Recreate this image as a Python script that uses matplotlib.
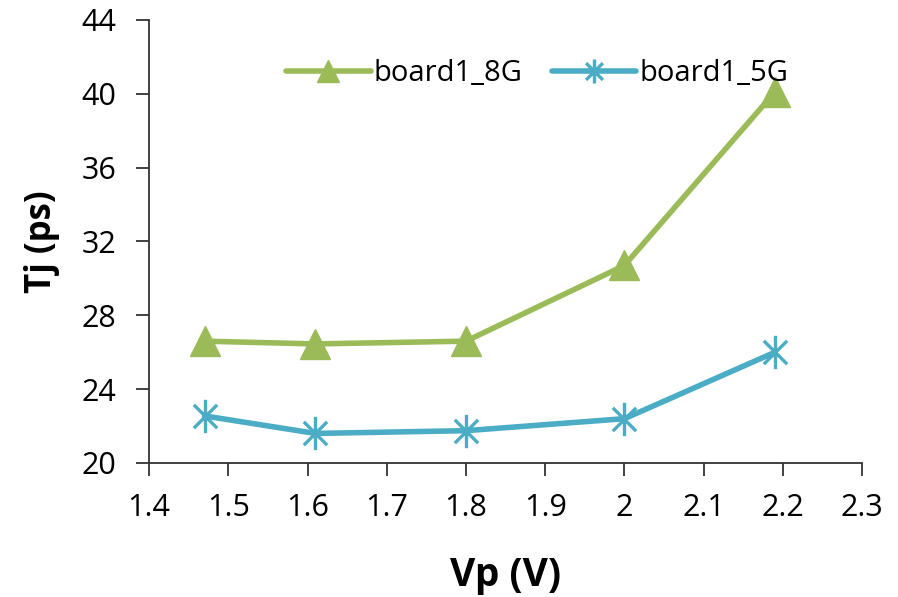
import numpy as np
import matplotlib.pyplot as plt
from matplotlib.path import Path

plt.rcParams["font.family"] = ["Open Sans", "DejaVu Sans"]

# data
vp = [1.47, 1.61, 1.80, 2.00, 2.19]
tj_8g = [26.6, 26.45, 26.6, 30.7, 40.1]
tj_5g = [22.55, 21.6, 21.75, 22.4, 26.0]
labels = ["board1_8G", "board1_5G"]
xticks = [1.4, 1.5, 1.6, 1.7, 1.8, 1.9, 2.0, 2.1, 2.2, 2.3]
xticklabels = ["1.4", "1.5", "1.6", "1.7", "1.8", "1.9", "2", "2.1", "2.2", "2.3"]
yticks = [20, 24, 28, 32, 36, 40, 44]

green = "#9BBB59"
blue = "#4BACC6"

# excel style star: vertical bar plus an X
star = Path(
    [(0, -1), (0, 1), (-0.7, -0.7), (0.7, 0.7), (-0.7, 0.7), (0.7, -0.7)],
    [Path.MOVETO, Path.LINETO, Path.MOVETO, Path.LINETO, Path.MOVETO, Path.LINETO],
)

fig = plt.figure(figsize=(8.98, 5.97), dpi=100)
ax = fig.add_axes([0.166, 0.2245, 0.794, 0.742])

ax.plot(vp, tj_8g, color=green, lw=4, marker="^", markersize=22,
        label=labels[0], solid_capstyle="round")
ax.plot(vp, tj_5g, color=blue, lw=4, marker=star, markersize=24,
        markeredgewidth=2.4, markerfacecolor="none", markeredgecolor=blue,
        label=labels[1], solid_capstyle="round")

ax.set_xlim(1.4, 2.3)
ax.set_ylim(20, 44)
ax.set_xticks(xticks)
ax.set_xticklabels(xticklabels)
ax.set_yticks(yticks)

for s in ["top", "right"]:
    ax.spines[s].set_visible(False)
for s in ["left", "bottom"]:
    ax.spines[s].set_linewidth(1.3)
    ax.spines[s].set_color("#333333")

ax.tick_params(axis="both", labelsize=22, length=9.5, width=1.3, color="#333333",
               direction="out")
ax.tick_params(axis="x", pad=12)
ax.tick_params(axis="y", pad=14)

ax.set_xlabel("Vp (V)", fontsize=28, fontweight="bold", va="center")
ax.set_ylabel("Tj (ps)", fontsize=25, fontweight="bold", va="center")
ax.xaxis.set_label_coords(0.5, -0.253)
ax.yaxis.set_label_coords(-0.150, 0.5)

ax.legend(loc="center", bbox_to_anchor=(0.598, 0.877), bbox_transform=fig.transFigure,
          ncol=2, frameon=False, fontsize=21, handlelength=2.9, handletextpad=0.1,
          columnspacing=1.0, markerscale=0.72)

fig.savefig("out.png")
